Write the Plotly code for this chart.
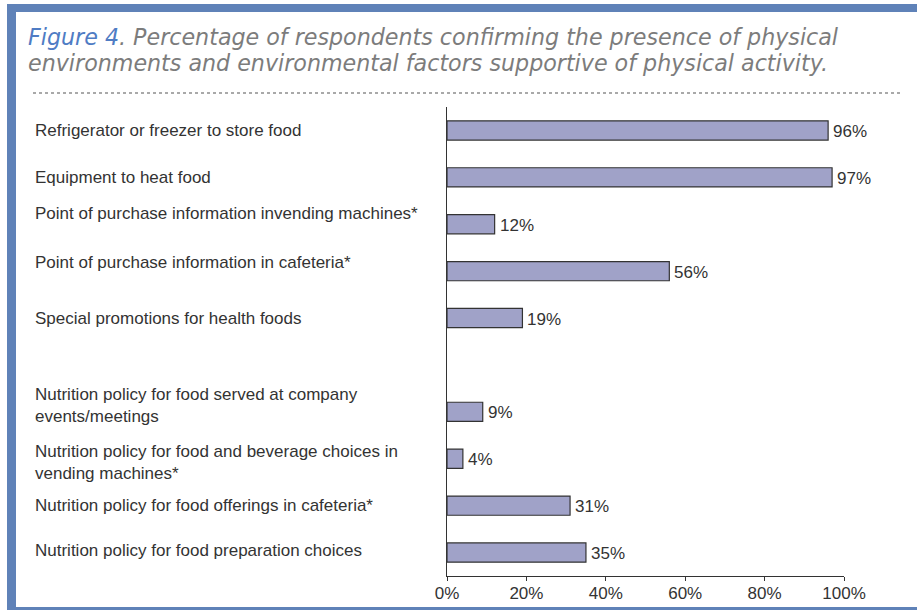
import plotly.graph_objects as go

# ---- data ----
categories = [
    "Refrigerator or freezer to store food",
    "Equipment to heat food",
    "Point of purchase information invending machines*",
    "Point of purchase information in cafeteria*",
    "Special promotions for health foods",
    "Nutrition policy for food served at company events/meetings",
    "Nutrition policy for food and beverage choices in vending machines*",
    "Nutrition policy for food offerings in cafeteria*",
    "Nutrition policy for food preparation choices",
]
label_lines = [
    ["Refrigerator or freezer to store food"],
    ["Equipment to heat food"],
    ["Point of purchase information invending machines*"],
    ["Point of purchase information in cafeteria*"],
    ["Special promotions for health foods"],
    ["Nutrition policy for food served at company", "events/meetings"],
    ["Nutrition policy for food and beverage choices in", "vending machines*"],
    ["Nutrition policy for food offerings in cafeteria*"],
    ["Nutrition policy for food preparation choices"],
]
values = [96, 97, 12, 56, 19, 9, 4, 31, 35]
value_text = [f"{v}%" for v in values]
spacer = " "
category_order = categories[:5] + [spacer] + categories[5:]
tick_vals = [0, 20, 40, 60, 80, 100]
tick_text = [f"{t}%" for t in tick_vals]

title_lead = "Figure 4"
title_line1 = ". Percentage of respondents confirming the presence of physical"
title_line2 = "environments and environmental factors supportive of physical activity."

# ---- layout constants (pixels) ----
W, H = 917, 610
ML, MR, MT, MB = 447, 73, 107, 34
PW, PH = W - ML - MR, H - MT - MB

def px_x(px):
    return (px - ML) / PW

def px_y(py):
    return (H - MB - py) / PH

LABEL_FONT = "Liberation Sans Narrow, Arial Narrow, Liberation Sans, sans-serif"
TXT = "#333333"
BLUE = "#5f82b8"

fig = go.Figure()
fig.add_trace(go.Bar(
    x=values, y=categories, orientation="h",
    marker=dict(color="#a0a2c8", line=dict(color="#333333", width=1.2)),
    width=0.41, cliponaxis=False, hoverinfo="skip",
))

annotations = []
# value labels
for cat, v, t in zip(categories, values, value_text):
    annotations.append(dict(
        xref="x", yref="y", x=v, y=cat, xshift=3, yshift=-1,
        text=t, showarrow=False, xanchor="left", yanchor="middle",
        font=dict(family=LABEL_FONT, size=17, color=TXT),
    ))

# category labels (left aligned), offsets in pixels (positive = up)
label_shift = [0, 0, 11, 9, 0, 6, -4, 0, 2]
for cat, lines, sh in zip(categories, label_lines, label_shift):
    annotations.append(dict(
        xref="paper", yref="y", x=px_x(33), y=cat, yshift=sh,
        text="<br>".join(lines), showarrow=False, xanchor="left", yanchor="middle",
        align="left",
        font=dict(family=LABEL_FONT, size=17, color=TXT),
    ))

TITLE_FONT = "DejaVu Sans ExtraLight, DejaVu Sans, sans-serif"
annotations.append(dict(
    xref="paper", yref="paper", x=px_x(26), y=px_y(37),
    text=f"<span style='color:#4f7cc4'>{title_lead}</span>{title_line1}",
    showarrow=False, xanchor="left", yanchor="middle",
    font=dict(family=TITLE_FONT, size=22.2, color="#7c7c7c", style="italic", weight=200),
))
annotations.append(dict(
    xref="paper", yref="paper", x=px_x(26), y=px_y(63),
    text=title_line2,
    showarrow=False, xanchor="left", yanchor="middle",
    font=dict(family=TITLE_FONT, size=22.2, color="#7c7c7c", style="italic", weight=200),
))

shapes = [
    # frame: top, left, bottom bands
    dict(type="rect", xref="paper", yref="paper", x0=px_x(7), x1=px_x(W),
         y0=px_y(12), y1=px_y(4), fillcolor=BLUE, line=dict(width=0), layer="above"),
    dict(type="rect", xref="paper", yref="paper", x0=px_x(7), x1=px_x(16),
         y0=px_y(H), y1=px_y(4), fillcolor=BLUE, line=dict(width=0), layer="above"),
    dict(type="rect", xref="paper", yref="paper", x0=px_x(7), x1=px_x(W),
         y0=px_y(H), y1=px_y(607), fillcolor=BLUE, line=dict(width=0), layer="above"),
    # dotted separator
    dict(type="line", xref="paper", yref="paper", x0=px_x(33), x1=px_x(900),
         y0=px_y(93), y1=px_y(93), line=dict(color="#555555", width=1.2, dash="dot")),
]

fig.update_layout(
    width=W, height=H,
    margin=dict(l=ML, r=MR, t=MT, b=MB, pad=0, autoexpand=False),
    paper_bgcolor="white", plot_bgcolor="white",
    showlegend=False,
    annotations=annotations, shapes=shapes,
    xaxis=dict(
        range=[0, 100], tickvals=tick_vals, ticktext=tick_text, automargin=False,
        showgrid=False, zeroline=False, showline=True, linecolor="#333333", linewidth=1.2,
        ticks="outside", ticklen=4, tickcolor="#333333", tickwidth=1.2,
        ticklabelstandoff=-3,
        tickfont=dict(family=LABEL_FONT, size=17, color=TXT), fixedrange=True,
    ),
    yaxis=dict(
        type="category", categoryorder="array", categoryarray=category_order,
        range=[len(category_order) - 0.5, -0.5], automargin=False,
        showticklabels=False, showgrid=False, zeroline=False,
        showline=True, linecolor="#333333", linewidth=1.2, ticks="", fixedrange=True,
    ),
)

fig.write_html(
    "out.html",
    config={"displayModeBar": False},
    post_script=(
        "document.body.style.margin='0';"
        "document.body.style.overflow='hidden';"
    ),
)
